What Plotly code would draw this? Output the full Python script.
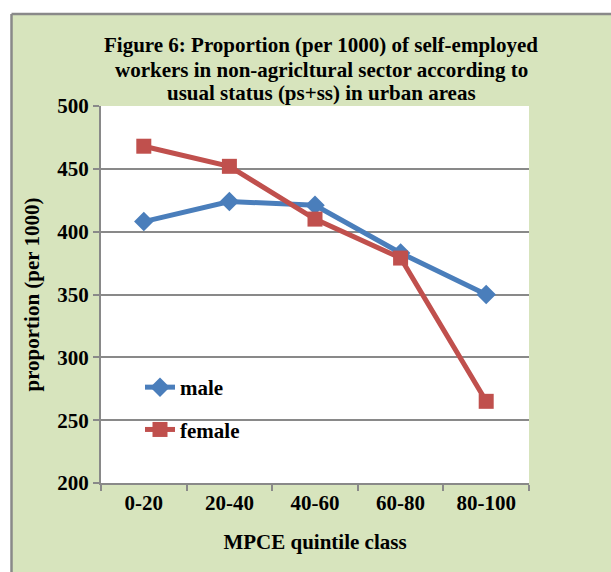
import plotly.graph_objects as go

categories = ["0-20", "20-40", "40-60", "60-80", "80-100"]
male = [408, 424, 421, 383, 350]
female = [468, 452, 410, 379, 265]
y_ticks = [200, 250, 300, 350, 400, 450, 500]
title_lines = ["Figure 6: Proportion (per 1000) of self-employed",
               "workers in non-agricltural sector according to",
               "usual status (ps+ss) in urban areas"]

W, H = 611, 572
L, R, T, B = 101, 82, 106, 89
pw, ph = W - L - R, H - T - B

def px(x):
    return (x - L) / pw

def py(y):
    return (H - B - y) / ph

green = "#D7E4BD"
grey = "#898989"
font = "Liberation Serif"
fs = 21

fig = go.Figure()
fig.add_trace(go.Scatter(x=categories, y=male, name="<b>male</b>", mode="lines+markers",
                         legendgroup="m",
                         line=dict(color="#4A7EBB", width=5),
                         marker=dict(symbol="diamond", size=15, color="#4A7EBB")))
fig.add_trace(go.Scatter(x=categories, y=female, name="<b>female</b>", mode="lines+markers",
                         legendgroup="f",
                         line=dict(color="#C0504D", width=5),
                         marker=dict(symbol="square", size=15, color="#C0504D")))

shapes = [
    dict(type="rect", xref="paper", yref="paper", x0=px(-50), x1=px(11), y0=py(700), y1=py(-50),
         fillcolor="white", line=dict(width=0), layer="above"),
    dict(type="rect", xref="paper", yref="paper", x0=px(-50), x1=px(700), y0=py(14), y1=py(-50),
         fillcolor="white", line=dict(width=0), layer="above"),
    dict(type="line", xref="paper", yref="paper", x0=px(11.5), x1=px(11.5), y0=py(14), y1=py(700),
         line=dict(color=grey, width=2.5), layer="above"),
    dict(type="line", xref="paper", yref="paper", x0=px(11.5), x1=px(700), y0=py(14), y1=py(14),
         line=dict(color=grey, width=2.5), layer="above"),
]

title_y = [45, 70, 93]
annotations = [
    dict(text=f"<b>{t}</b>", xref="paper", yref="paper", x=px(321), y=py(yy),
         xanchor="center", yanchor="middle", showarrow=False,
         font=dict(family=font, size=fs, color="black"))
    for t, yy in zip(title_lines, title_y)
]

fig.update_layout(
    width=W, height=H,
    margin=dict(l=L, r=R, t=T, b=B),
    paper_bgcolor=green, plot_bgcolor="white",
    font=dict(family=font, color="black", size=fs),
    shapes=shapes,
    annotations=annotations,
    showlegend=True,
    legend=dict(x=px(140), y=py(367), xanchor="left", yanchor="top",
                bgcolor="rgba(0,0,0,0)", tracegroupgap=12,
                font=dict(family=font, size=fs, color="black")),
    xaxis=dict(
        type="category", range=[-0.5, 4.5], tickson="boundaries",
        showgrid=False, showline=True, linecolor=grey, linewidth=2,
        ticks="outside", ticklen=6, tickwidth=1.5, tickcolor=grey,
        tickfont=dict(family=font, size=fs, color="black"),
        title=dict(text="<b>MPCE quintile class</b>", standoff=20,
                   font=dict(family=font, size=fs, color="black")),
        tickprefix="<b>", ticksuffix="</b>",
    ),
    yaxis=dict(
        range=[200, 500], tickvals=y_ticks, ticktext=[f"<b>{v}</b>" for v in y_ticks],
        showgrid=True, gridcolor=grey, gridwidth=2,
        showline=True, linecolor=grey, linewidth=2,
        ticks="outside", ticklen=6, tickwidth=1.5, tickcolor=grey,
        tickfont=dict(family=font, size=fs, color="black"),
        title=dict(text="<b>proportion (per 1000)</b>", standoff=12,
                   font=dict(family=font, size=fs, color="black")),
        zeroline=False,
    ),
)

fig.write_html("out.html", config={"displayModeBar": False},
               post_script="document.body.style.margin='0';document.body.style.padding='0';")
